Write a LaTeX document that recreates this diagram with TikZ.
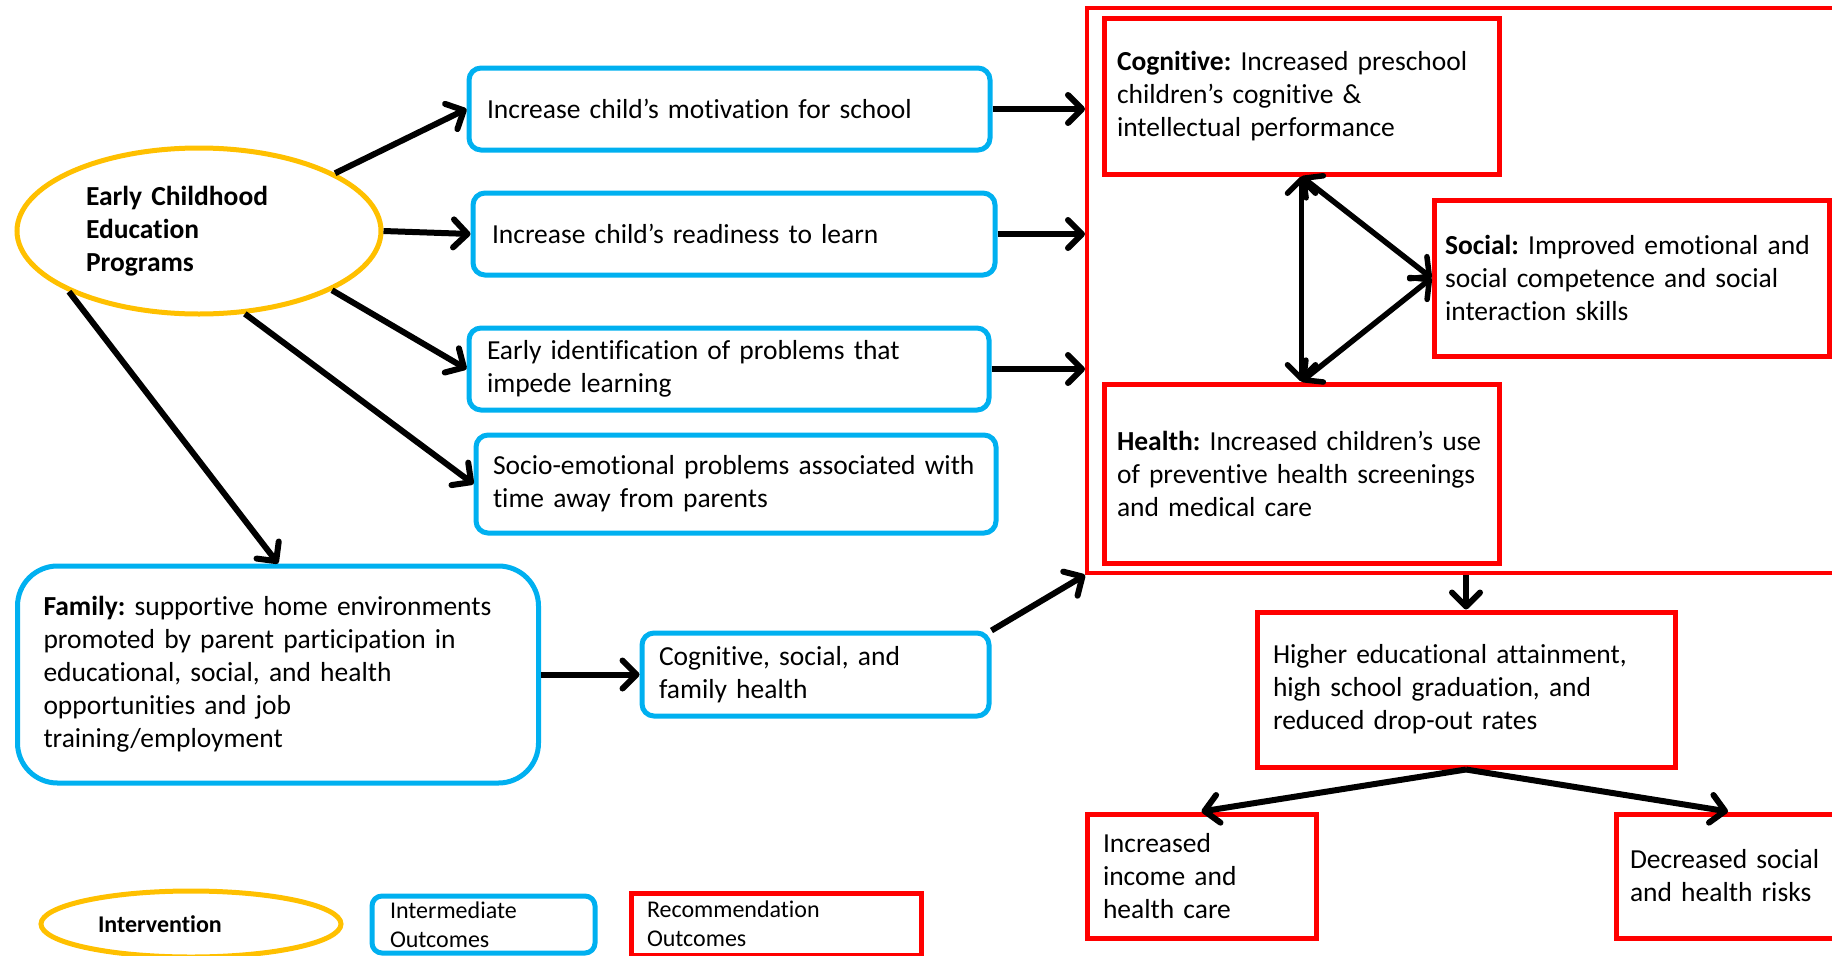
\documentclass[tikz,border=0pt]{standalone}
\usepackage{fontspec}
\setmainfont{Carlito}[Ligatures=NoCommon]
\usetikzlibrary{shapes.geometric,arrows.meta}
\definecolor{ecegold}{HTML}{FFC000}
\definecolor{midblue}{HTML}{00B0F0}
\definecolor{recred}{HTML}{FF0000}
\tikzset{
intervention/.style={ellipse, draw=ecegold, line width=5pt, align=left, inner sep=3pt,
  font=\bfseries\fontsize{27.5}{33}\selectfont},
midbox/.style={rectangle, rounded corners=12pt, draw=midblue, line width=5pt, align=left,
  inner ysep=3pt, font=\fontsize{27.5}{33}\selectfont},
recbox/.style={rectangle, draw=recred, line width=5pt, align=left,
  inner ysep=3pt, font=\fontsize{27.5}{33}\selectfont},
keyfont/.style={font=\fontsize{24}{29}\selectfont, inner ysep=1pt},
link/.style={-{Straight Barb[length=14pt,width=28pt,round]}, line width=6pt},
both/.style={{Straight Barb[length=14pt,width=28pt,round]}-{Straight Barb[length=14pt,width=28pt,round]}, line width=5.5pt}
}

\begin{document}
\frenchspacing
\begin{tikzpicture}[x=1pt,y=-1pt]
\useasboundingbox (0,0) rectangle (1832,956);
\clip (0,0) rectangle (1832,956);

\node[intervention, text width=226pt, minimum width=364pt, minimum height=166pt] (ece) at (199,231) {Early Childhood\\Education\\Programs};

\node[midbox, inner xsep=18pt, text width=485pt, minimum height=82pt] (motiv) at (729.5,109) {Increase child’s motivation for school};
\node[midbox, inner xsep=19pt, text width=484pt, minimum height=82pt] (ready) at (734,234) {Increase child’s readiness to learn};
\node[midbox, inner xsep=18pt, text width=484pt, minimum height=82pt] (early) at (729,369) {Early identification of problems that\\impede learning};
\node[midbox, inner xsep=17pt, text width=486pt, minimum height=98pt] (socio) at (736,484) {Socio-emotional problems associated with\\time away from parents};
\node[midbox, rounded corners=40pt, inner xsep=26pt, text width=469pt, minimum height=217pt] (family) at (278,674.5) {\textbf{Family:} supportive home environments\\promoted by parent participation in\\educational, social, and health\\opportunities and job\\training/employment};
\node[midbox, inner xsep=17pt, text width=313pt, minimum height=83pt] (cogfam) at (815.5,674.5) {Cognitive, social, and\\family health};

\node[draw=recred, line width=4pt, minimum width=758pt, minimum height=565pt] (recgroup) at (1466,290.5) {};
\node[recbox, inner xsep=13pt, text width=369pt, minimum height=156pt] (cog) at (1301.5,96) {\textbf{Cognitive:} Increased preschool\\children’s cognitive \&\\intellectual performance};
\node[recbox, inner xsep=11pt, text width=373pt, minimum height=156pt] (social) at (1631.5,278) {\textbf{Social:} Improved emotional and\\social competence and social\\interaction skills};
\node[recbox, inner xsep=13pt, text width=369pt, minimum height=179pt] (health) at (1301.5,473.5) {\textbf{Health:} Increased children’s use\\of preventive health screenings\\and medical care};
\node[recbox, inner xsep=16pt, text width=386pt, minimum height=155pt] (higher) at (1466,689.5) {Higher educational attainment,\\high school graduation, and\\reduced drop-out rates};
\node[recbox, inner xsep=16pt, text width=197pt, minimum height=124pt] (income) at (1201.5,876) {Increased\\income and\\health care};
\node[recbox, inner xsep=14pt, text width=196pt, minimum height=124pt] (decr) at (1728,876) {Decreased social\\and health risks};

\node[intervention, font=\bfseries\fontsize{24}{29}\selectfont, text width=186pt, minimum width=300pt, minimum height=66pt] (keyece) at (191,924) {Intervention};
\node[midbox, keyfont, rounded corners=10pt, inner xsep=18pt, text width=187pt, minimum height=57pt] (keymid) at (483.5,924.5) {Intermediate\\Outcomes};
\node[recbox, keyfont, inner xsep=16pt, text width=258pt, minimum height=62pt] (keyrec) at (776,924) {Recommendation\\Outcomes};

\draw[link] (ece.23.5) -- (motiv.west);
\draw[link] (ece.east) -- (ready.west);
\draw[link] (ece.-24) -- (early.west);
\draw[link] (ece.-61) -- (socio.west);
\draw[link] (ece.-155) -- (family.north);
\draw[link] (motiv.east) -- (motiv.east -| recgroup.west);
\draw[link] (ready.east) -- (ready.east -| recgroup.west);
\draw[link] (early.east) -- (early.east -| recgroup.west);
\draw[link] (family.east) -- (cogfam.west);
\draw[link] (cogfam.north east) -- (recgroup.south west);
\draw[both] (cog.south) -- (health.north);
\draw[both] (cog.south) -- (social.west);
\draw[both] (health.north) -- (social.west);
\draw[link] (recgroup.south) -- (higher.north);
\draw[link] (higher.south) -- (income.north);
\draw[link] (higher.south) -- (decr.north);
\end{tikzpicture}
\end{document}
